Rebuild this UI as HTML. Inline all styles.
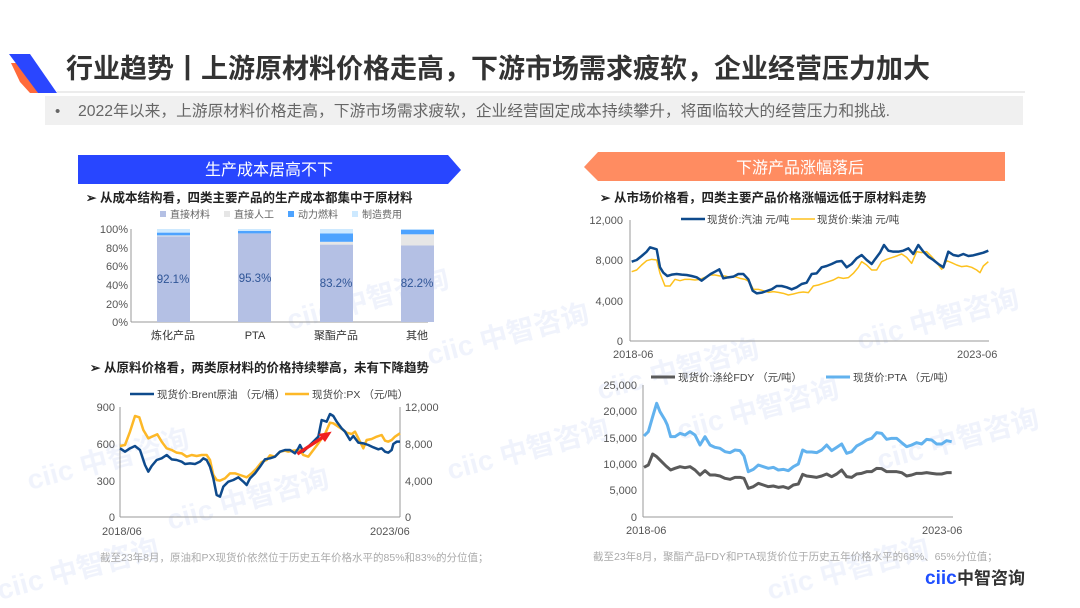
<!DOCTYPE html>
<html><head><meta charset="utf-8"><style>
html,body{margin:0;padding:0;background:#fff;}
svg{display:block;font-family:"Liberation Sans","Noto Sans CJK SC",sans-serif;}
</style></head><body>
<svg width="1080" height="608" viewBox="0 0 1080 608" xmlns="http://www.w3.org/2000/svg">
<rect width="1080" height="608" fill="#fff"/>
<!-- watermarks -->
<g fill="#e6ecfb" font-weight="bold" font-size="28" opacity="0.6">
<text x="30" y="490" transform="rotate(-15 30 490)">ciic 中智咨询</text>
<text x="290" y="330" transform="rotate(-15 290 330)">ciic 中智咨询</text>
<text x="430" y="365" transform="rotate(-15 430 365)">ciic 中智咨询</text>
<text x="450" y="480" transform="rotate(-15 450 480)">ciic 中智咨询</text>
<text x="680" y="440" transform="rotate(-15 680 440)">ciic 中智咨询</text>
<text x="860" y="350" transform="rotate(-15 860 350)">ciic 中智咨询</text>
<text x="880" y="470" transform="rotate(-15 880 470)">ciic 中智咨询</text>
<text x="170" y="530" transform="rotate(-15 170 530)">ciic 中智咨询</text>
<text x="600" y="400" transform="rotate(-15 600 400)">ciic 中智咨询</text>
<text x="770" y="600" transform="rotate(-15 770 600)">ciic 中智咨询</text>
<text x="0" y="600" transform="rotate(-15 0 600)">ciic 中智咨询</text>
</g>
<!-- logo -->
<polygon points="11,63 20,63 38,93 30,93 20,82" fill="#ff6a3a"/>
<polygon points="9,54 30,54 57,93 38,93" fill="#2a46ff"/>
<text x="66" y="78" font-size="27" font-weight="bold" fill="#333" textLength="864" lengthAdjust="spacingAndGlyphs">行业趋势丨上游原材料价格走高，下游市场需求疲软，企业经营压力加大</text>
<line x1="57" y1="92" x2="1025" y2="92" stroke="#d9d9d9" stroke-width="1"/>
<rect x="45" y="96" width="978" height="29" fill="#f0f0f0"/>
<text x="55" y="116" font-size="15" fill="#666">•</text>
<text x="78" y="116" font-size="15.5" fill="#666" textLength="812" lengthAdjust="spacingAndGlyphs">2022年以来，上游原材料价格走高，下游市场需求疲软，企业经营固定成本持续攀升，将面临较大的经营压力和挑战.</text>
<!-- banners -->
<polygon points="78,155 448,155 461,170 448,184 78,184" fill="#2846ff"/>
<text x="269" y="175" font-size="16" fill="#fff" text-anchor="middle">生产成本居高不下</text>
<polygon points="584,167 598,152 1005,152 1005,181 598,181" fill="#ff8c61"/>
<text x="800" y="173" font-size="16" fill="#fff" text-anchor="middle">下游产品涨幅落后</text>

<!-- chart1 -->
<text x="86" y="202" font-size="12.5" font-weight="bold" fill="#222">➢ 从成本结构看，四类主要产品的生产成本都集中于原材料</text>
<g font-size="10" fill="#666">
<rect x="160" y="211" width="6" height="6" fill="#b4c0e4"/><text x="170" y="218">直接材料</text>
<rect x="224" y="211" width="6" height="6" fill="#e6e6e6"/><text x="234" y="218">直接人工</text>
<rect x="288" y="211" width="6" height="6" fill="#4da3ff"/><text x="298" y="218">动力燃料</text>
<rect x="352" y="211" width="6" height="6" fill="#cde9ff"/><text x="362" y="218">制造费用</text>
</g>
<g font-size="11" fill="#555" text-anchor="end">
<text x="128" y="233">100%</text><text x="128" y="252">80%</text><text x="128" y="270">60%</text><text x="128" y="289">40%</text><text x="128" y="308">20%</text><text x="128" y="326">0%</text>
</g>
<line x1="131" y1="229" x2="131" y2="322" stroke="#999"/>
<line x1="131" y1="322" x2="428" y2="322" stroke="#999"/>
<g>
<rect x="157" y="236.3" width="33" height="85.7" fill="#b4c0e4"/>
<rect x="157" y="235.4" width="33" height="0.9" fill="#e6e6e6"/>
<rect x="157" y="232.6" width="33" height="2.8" fill="#4da3ff"/>
<rect x="157" y="229" width="33" height="3.6" fill="#cde9ff"/>
<rect x="238" y="233.4" width="33" height="88.6" fill="#b4c0e4"/>
<rect x="238" y="231" width="33" height="2.4" fill="#4da3ff"/>
<rect x="238" y="229" width="33" height="2" fill="#cde9ff"/>
<rect x="320" y="244.6" width="33" height="77.4" fill="#b4c0e4"/>
<rect x="320" y="241.8" width="33" height="2.8" fill="#e6e6e6"/>
<rect x="320" y="233.4" width="33" height="8.4" fill="#4da3ff"/>
<rect x="320" y="229" width="33" height="4.4" fill="#cde9ff"/>
<rect x="401" y="245.5" width="33" height="76.5" fill="#b4c0e4"/>
<rect x="401" y="234.3" width="33" height="11.2" fill="#e6e6e6"/>
<rect x="401" y="229.7" width="33" height="4.6" fill="#4da3ff"/>
<rect x="401" y="229" width="33" height="0.7" fill="#cde9ff"/>
</g>
<g font-size="11.5" fill="#2f5597" text-anchor="middle">
<text x="173" y="283">92.1%</text><text x="255" y="282">95.3%</text><text x="336" y="287">83.2%</text><text x="417" y="287">82.2%</text>
</g>
<g font-size="11" fill="#333" text-anchor="middle">
<text x="173" y="339">炼化产品</text><text x="255" y="339">PTA</text><text x="336" y="339">聚酯产品</text><text x="417" y="339">其他</text>
</g>

<!-- chart2 -->
<text x="90" y="372" font-size="12.5" font-weight="bold" fill="#222">➢ 从原料价格看，两类原材料的价格持续攀高，未有下降趋势</text>
<line x1="130" y1="394" x2="154" y2="394" stroke="#0e4a8c" stroke-width="2.5"/>
<text x="157" y="398" font-size="10.5" fill="#444">现货价:Brent原油 （元/桶）</text>
<line x1="285" y1="394" x2="309" y2="394" stroke="#fdb827" stroke-width="2.5"/>
<text x="312" y="398" font-size="10.5" fill="#444">现货价:PX （元/吨）</text>
<g font-size="11" fill="#555">
<g text-anchor="end"><text x="115" y="411">900</text><text x="115" y="448">600</text><text x="115" y="485">300</text><text x="115" y="521">0</text></g>
<text x="405" y="411">12,000</text><text x="405" y="448">8,000</text><text x="405" y="485">4,000</text><text x="405" y="521">0</text>
<text x="102" y="535">2018/06</text><text x="370" y="535">2023/06</text>
</g>
<line x1="120" y1="407" x2="120" y2="517" stroke="#999"/>
<line x1="400" y1="407" x2="400" y2="517" stroke="#999"/>
<line x1="120" y1="517" x2="400" y2="517" stroke="#999"/>
<g transform="translate(80,360) scale(0.33333)" fill="none" stroke-linejoin="round">
<polyline stroke="#fdb827" stroke-width="7.5" points="120,258 135,255 150,215 165,168 178,172 190,210 205,235 220,228 232,223 245,245 260,265 275,270 290,278 305,280 320,290 335,285 350,288 365,285 380,285 390,300 400,345 410,360 420,362 435,355 450,340 465,340 480,345 500,352 515,340 530,325 545,306 560,300 570,286 585,290 600,275 615,272 625,275 640,272 660,270 670,285 685,290 700,270 715,250 735,222 750,188 760,190 775,200 790,210 800,218 815,222 825,215 835,235 850,265 860,240 875,237 890,230 905,225 915,242 925,245 935,240 945,230 960,220"/>
<polyline stroke="#0e4a8c" stroke-width="7.5" points="120,265 135,275 150,265 165,258 180,270 195,315 205,335 215,318 230,300 245,295 260,285 275,298 290,300 305,305 315,312 330,310 345,312 360,305 370,295 380,300 390,320 400,355 410,405 420,410 430,380 445,365 460,360 475,352 490,365 500,375 510,355 525,340 540,320 555,298 570,295 585,290 600,275 615,270 630,270 645,280 655,265 660,255 670,275 680,265 690,255 705,240 715,230 725,180 740,185 750,162 760,168 770,185 785,205 795,215 810,240 820,228 835,248 850,250 865,255 880,262 895,268 905,265 915,275 925,278 935,270 940,252 950,245 960,245"/>
<line x1="652" y1="282" x2="728" y2="232" stroke="#f02020" stroke-width="10"/>
<polygon points="755,215 715,222 735,246" fill="#f02020" stroke="none"/>
</g>
<text x="100" y="561" font-size="10.5" fill="#aaa">截至23年8月，原油和PX现货价依然位于历史五年价格水平的85%和83%的分位值；</text>

<!-- chart3 -->
<text x="600" y="202" font-size="12.5" font-weight="bold" fill="#222">➢ 从市场价格看，四类主要产品价格涨幅远低于原材料走势</text>
<line x1="681" y1="219" x2="705" y2="219" stroke="#0e4a8c" stroke-width="2.5"/>
<text x="707" y="223" font-size="10.5" fill="#444">现货价:汽油 元/吨</text>
<line x1="791" y1="219" x2="815" y2="219" stroke="#fdc11e" stroke-width="1.5"/>
<text x="817" y="223" font-size="10.5" fill="#444">现货价:柴油 元/吨</text>
<g font-size="11" fill="#555" text-anchor="end">
<text x="623" y="224">12,000</text><text x="623" y="264">8,000</text><text x="623" y="305">4,000</text><text x="623" y="345">0</text>
</g>
<line x1="630" y1="220" x2="630" y2="341" stroke="#999"/>
<line x1="630" y1="341" x2="989" y2="341" stroke="#999"/>
<text x="613" y="358" font-size="11" fill="#555">2018-06</text>
<text x="957" y="358" font-size="11" fill="#555">2023-06</text>
<g transform="translate(580,180) scale(0.33333)" fill="none" stroke-linejoin="round">
<polyline stroke="#fdc11e" stroke-width="4.5" points="155,275 170,270 185,255 200,242 215,238 230,240 240,280 255,318 270,318 285,298 300,302 315,298 330,298 345,300 360,298 375,292 390,285 405,285 420,288 435,288 450,292 465,290 480,295 495,298 508,305 520,328 535,328 550,332 565,337 580,335 595,337 610,340 625,345 640,342 655,338 670,336 685,338 700,318 715,315 730,310 745,305 760,300 775,292 790,295 805,293 820,280 835,262 845,245 860,255 875,270 890,270 905,245 920,238 935,233 950,228 965,222 980,232 995,250 1010,215 1025,218 1040,215 1055,230 1070,248 1085,268 1100,242 1115,248 1130,255 1145,260 1160,258 1175,262 1190,270 1200,278 1210,258 1225,245"/>
<polyline stroke="#0e4a8c" stroke-width="7.5" points="155,245 170,240 185,228 200,215 210,202 220,205 230,208 240,262 250,278 262,288 275,284 290,282 305,284 320,285 335,288 350,292 365,302 378,292 392,282 405,275 418,268 430,295 445,292 460,290 475,282 490,282 505,298 518,332 530,340 545,338 560,333 575,328 590,318 605,318 620,322 635,328 650,322 665,312 680,308 695,282 710,280 725,262 740,258 755,252 770,245 785,243 800,262 815,252 830,235 845,225 860,240 875,252 885,238 900,218 912,195 925,212 940,215 955,215 970,212 985,205 1000,222 1015,195 1030,215 1045,230 1060,240 1075,252 1090,262 1105,215 1120,225 1135,228 1150,222 1165,228 1180,226 1195,222 1210,218 1225,212"/>
</g>

<!-- chart4 -->
<line x1="651" y1="377" x2="675" y2="377" stroke="#5a5a5a" stroke-width="3"/>
<text x="678" y="381" font-size="10.5" fill="#444">现货价:涤纶FDY （元/吨）</text>
<line x1="826" y1="377" x2="850" y2="377" stroke="#62b2ee" stroke-width="3"/>
<text x="853" y="381" font-size="10.5" fill="#444">现货价:PTA （元/吨）</text>
<g font-size="11" fill="#555" text-anchor="end">
<text x="637" y="389">25,000</text><text x="637" y="415">20,000</text><text x="637" y="442">15,000</text><text x="637" y="468">10,000</text><text x="637" y="494">5,000</text><text x="637" y="521">0</text>
</g>
<line x1="643" y1="385" x2="643" y2="517" stroke="#999"/>
<line x1="643" y1="517" x2="953" y2="517" stroke="#999"/>
<text x="626" y="534" font-size="11" fill="#555">2018-06</text>
<text x="922" y="534" font-size="11" fill="#555">2023-06</text>
<g transform="translate(580,370) scale(0.33333)" fill="none" stroke-linejoin="round">
<polyline stroke="#62b2ee" stroke-width="9" points="192,198 205,185 218,140 230,100 240,125 255,150 262,165 272,200 285,200 300,190 315,195 330,185 345,195 360,225 375,200 390,225 405,232 420,235 435,245 450,248 465,240 480,242 492,258 505,305 520,298 535,285 550,290 565,295 580,292 595,300 610,298 625,302 640,290 655,282 668,240 680,246 695,246 710,248 725,240 740,225 755,242 770,232 785,222 800,250 815,245 830,228 845,220 860,210 875,205 890,188 905,190 920,208 935,205 950,205 965,218 980,230 995,225 1010,218 1025,222 1040,208 1055,210 1070,222 1085,222 1100,212 1115,215"/>
<polyline stroke="#5a5a5a" stroke-width="9" points="192,292 205,285 218,252 230,260 245,275 258,288 272,300 285,295 300,290 315,293 330,290 345,300 360,315 375,302 390,315 405,315 420,318 435,325 450,328 465,322 480,322 492,325 505,355 520,350 535,340 550,345 565,350 580,348 595,352 610,350 625,355 640,345 655,342 668,313 680,318 695,320 710,322 725,318 740,312 755,320 770,312 785,300 800,320 815,322 830,312 845,310 860,305 875,305 890,295 905,296 920,305 935,305 950,305 965,308 980,318 995,315 1010,310 1025,310 1040,308 1055,310 1070,312 1085,312 1100,308 1115,308"/>
</g>
<text x="593" y="560" font-size="10.5" fill="#aaa">截至23年8月，聚酯产品FDY和PTA现货价位于历史五年价格水平的68%、65%分位值；</text>

<!-- bottom logo -->
<text x="925" y="584" font-size="19" font-weight="bold" fill="#1f4fff">ciic</text>
<text x="957" y="584" font-size="17" font-weight="bold" fill="#333">中智咨询</text>
</svg>
</body></html>
